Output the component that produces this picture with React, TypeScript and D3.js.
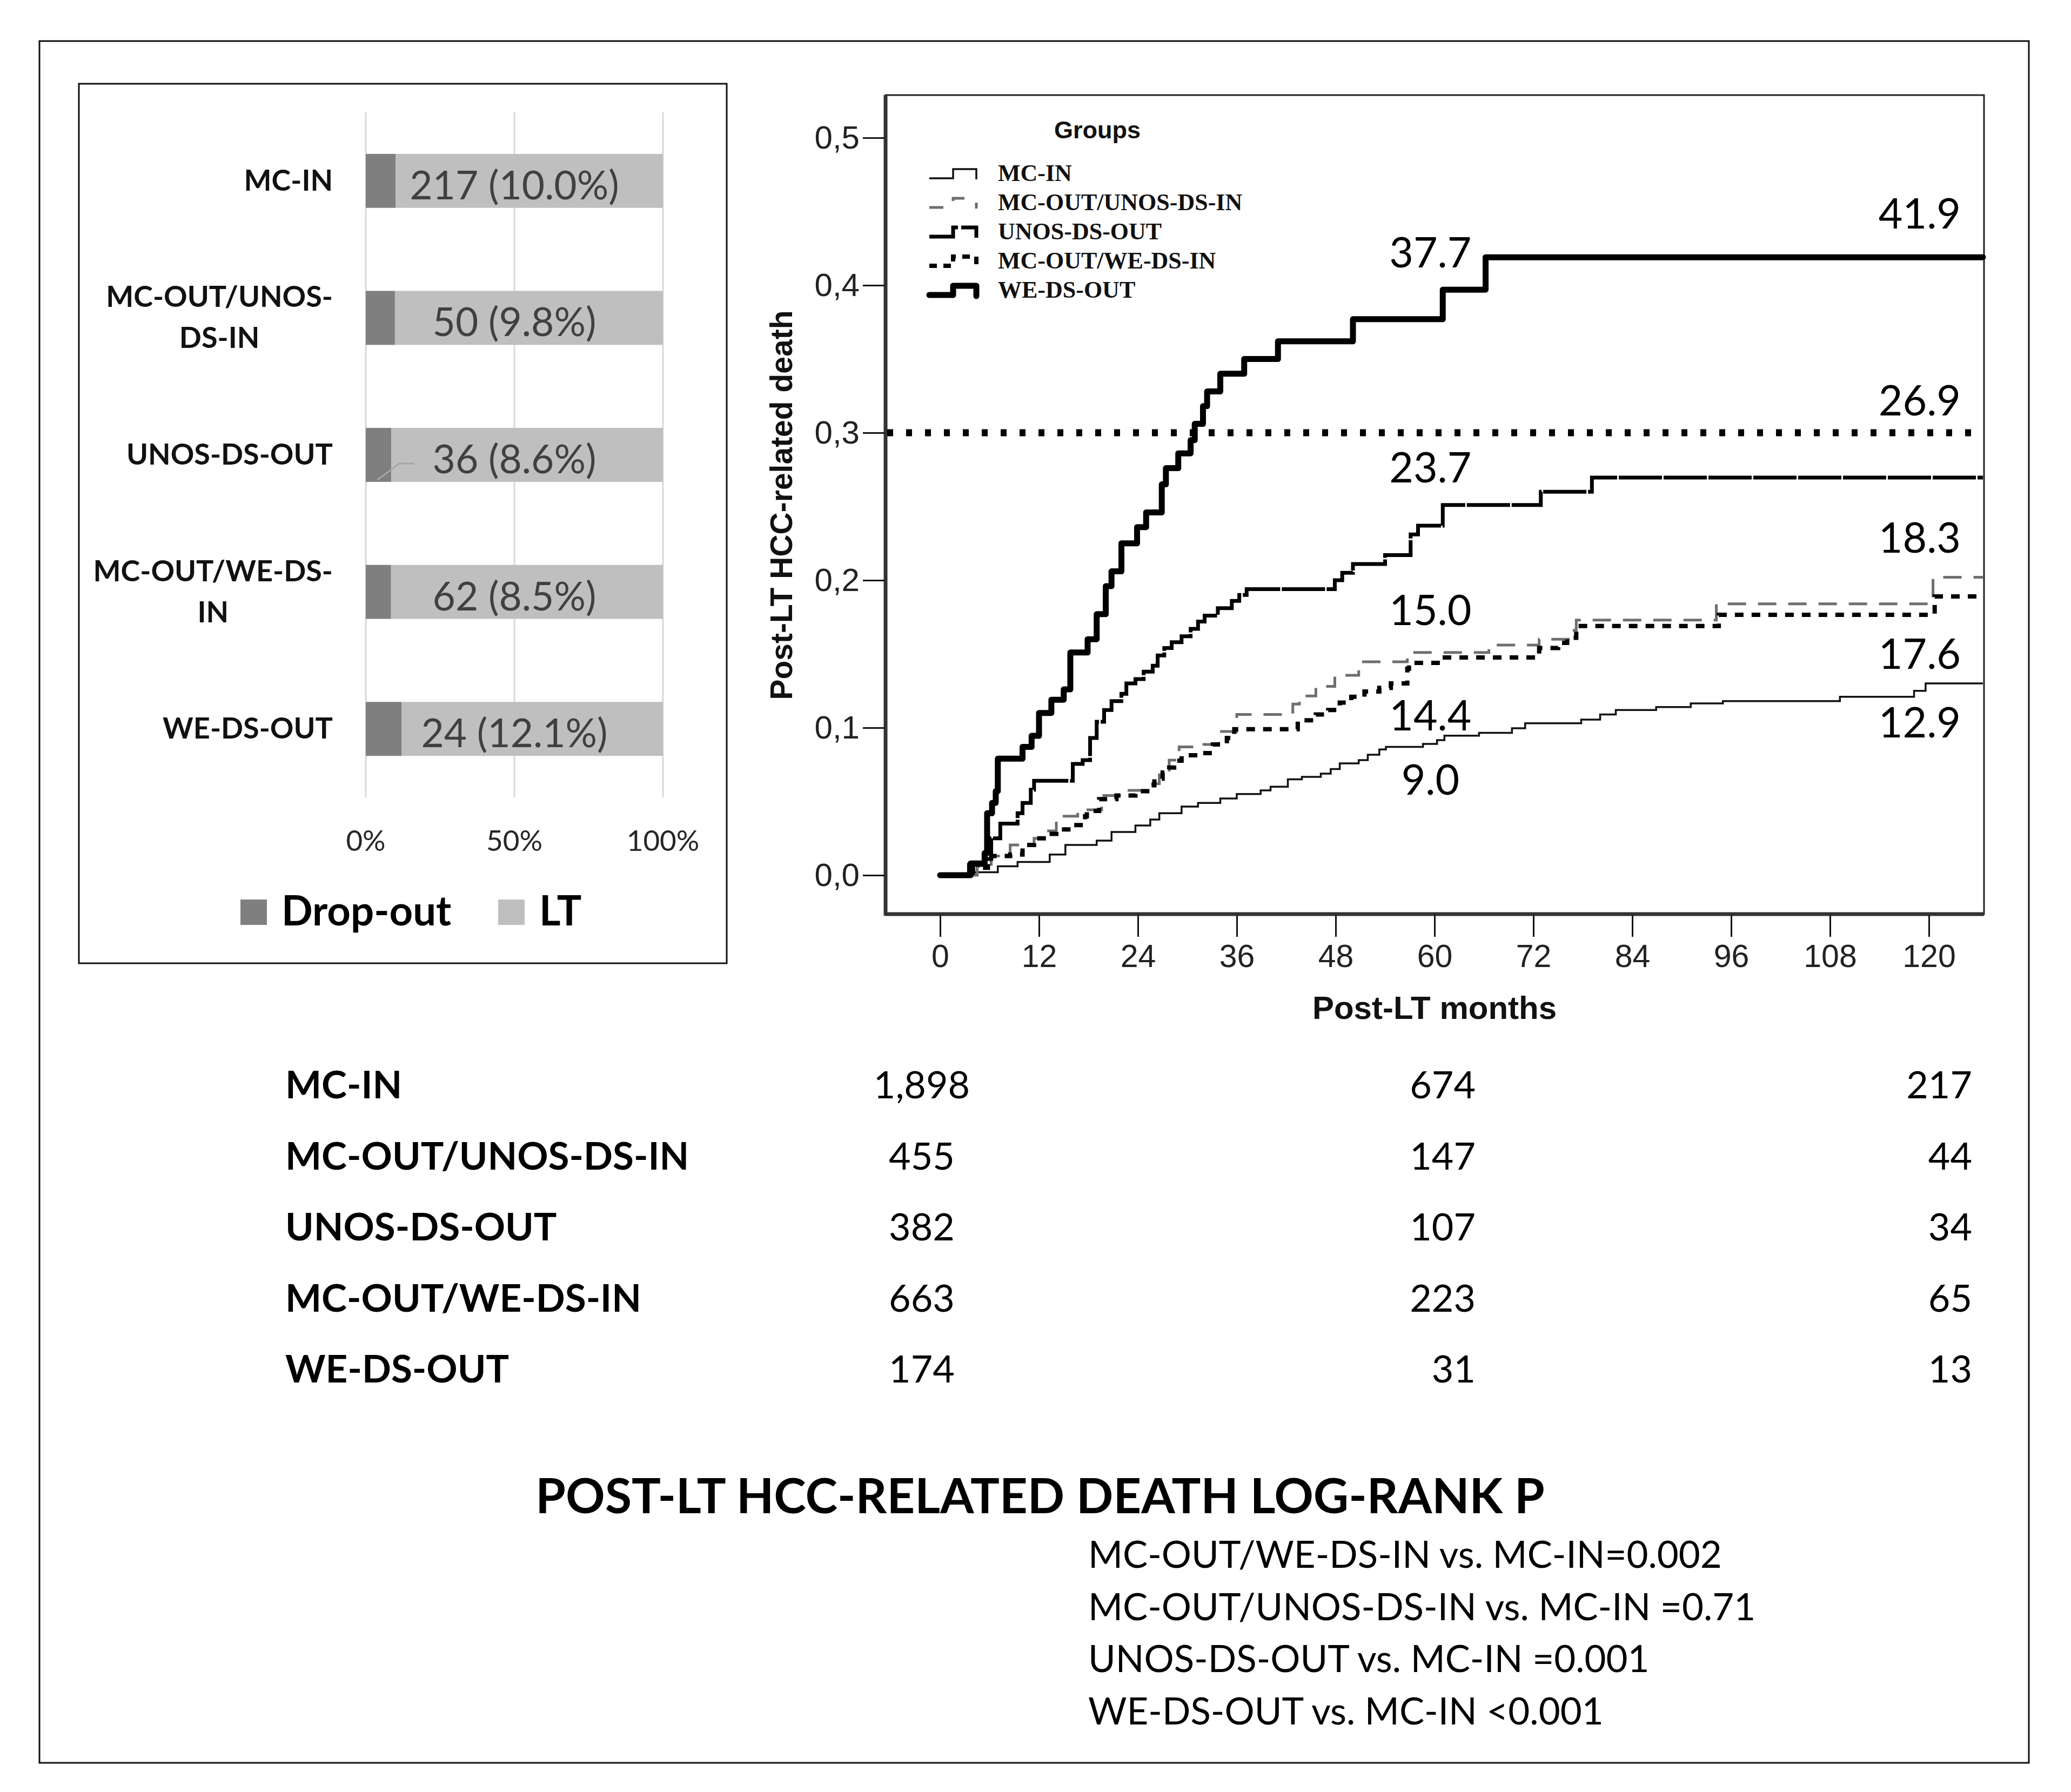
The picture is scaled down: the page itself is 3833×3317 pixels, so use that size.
import * as d3 from 'd3';
import { useEffect, useRef } from 'react';

const W = 3833;
const H = 3317;

// ---- data ----
const groups = ['MC-IN', 'MC-OUT/UNOS-DS-IN', 'UNOS-DS-OUT', 'MC-OUT/WE-DS-IN', 'WE-DS-OUT'];
const barLabelLines = [['MC-IN'], ['MC-OUT/UNOS-', 'DS-IN'], ['UNOS-DS-OUT'], ['MC-OUT/WE-DS-', 'IN'], ['WE-DS-OUT']];
const dropoutPct = [10.0, 9.8, 8.6, 8.5, 12.1];
const dropoutN = [217, 50, 36, 62, 24];
const barTicks = [0, 50, 100];
const barLegend = ['Drop-out', 'LT'];

// cumulative incidence step points [month, value]
const mcIn: [number, number][] = [
  [0, 0], [4.1, 0.002], [7.0, 0.006], [9.4, 0.009], [13.3, 0.014], [15.2, 0.0205], [19.0, 0.0234],
  [20.8, 0.0293], [23.7, 0.0337], [25.5, 0.0377], [26.6, 0.042], [29.3, 0.0465], [31.3, 0.049],
  [34.0, 0.052], [36.0, 0.055], [38.9, 0.0575], [40.1, 0.06], [42.2, 0.065], [43.9, 0.0667],
  [46.2, 0.0689], [47.4, 0.072], [48.5, 0.0758], [50.8, 0.078], [51.9, 0.0817], [53.3, 0.0853],
  [54.1, 0.087], [58.6, 0.089], [60.3, 0.0916], [61.2, 0.0946], [65.4, 0.0965], [69.4, 0.0996],
  [71.0, 0.103], [77.8, 0.1055], [80.1, 0.109], [82.0, 0.112], [86.9, 0.114], [91.1, 0.1165],
  [95.0, 0.118], [109.2, 0.121], [118.2, 0.125], [119.6, 0.13],
];
const mcOutUnosIn: [number, number][] = [
  [0, 0], [4.5, 0.006], [6.2, 0.013], [8.5, 0.0205], [11.4, 0.025], [12.9, 0.03], [14.1, 0.04],
  [16.7, 0.0443], [19.6, 0.054], [22.3, 0.0575], [25.5, 0.062], [26.6, 0.0696], [27.8, 0.078],
  [29.0, 0.087], [32.0, 0.0886], [33.8, 0.0974], [36.0, 0.109], [42.8, 0.116], [43.6, 0.1215],
  [45.6, 0.128], [47.9, 0.1355], [50.8, 0.1447], [56.7, 0.151], [66.6, 0.156], [72.7, 0.16],
  [76.7, 0.166], [77.2, 0.173], [94.2, 0.184], [120.5, 0.202],
];
const unosDsOut: [number, number][] = [
  [0, 0], [3.5, 0.007], [5.3, 0.011], [6.2, 0.025], [7.3, 0.035], [9.4, 0.042], [10.0, 0.049],
  [11.0, 0.058], [11.4, 0.064], [16.1, 0.0755], [17.3, 0.078], [18.2, 0.093], [19.0, 0.104],
  [19.9, 0.112], [20.8, 0.118], [22.0, 0.123], [22.6, 0.13], [23.7, 0.133], [24.7, 0.138],
  [25.8, 0.142], [26.4, 0.149], [27.2, 0.154], [28.1, 0.158], [29.3, 0.162], [30.4, 0.167],
  [31.3, 0.172], [32.1, 0.176], [33.7, 0.181], [35.4, 0.186], [36.3, 0.19], [37.2, 0.194],
  [47.9, 0.2], [48.8, 0.205], [50.1, 0.211], [54.0, 0.217], [57.1, 0.231], [58.0, 0.237],
  [61.0, 0.251], [72.9, 0.26], [79.1, 0.2696],
];
const mcOutWeIn: [number, number][] = [
  [0, 0], [4.0, 0.005], [5.8, 0.01], [6.2, 0.013], [8.5, 0.014], [10.0, 0.0205], [11.4, 0.025],
  [12.9, 0.028], [14.1, 0.031], [16.1, 0.034], [17.6, 0.04], [17.8, 0.0436], [19.3, 0.0516],
  [21.4, 0.054], [23.7, 0.057], [25.5, 0.061], [26.0, 0.0655], [27.0, 0.0696], [27.8, 0.073],
  [28.4, 0.0777], [29.3, 0.0813], [31.9, 0.0828], [33.1, 0.0886], [34.8, 0.093], [35.7, 0.099],
  [43.4, 0.105], [45.6, 0.109], [47.1, 0.112], [48.5, 0.117], [49.9, 0.121], [51.5, 0.1245],
  [53.3, 0.127], [54.7, 0.13], [56.7, 0.14], [56.9, 0.144], [60.9, 0.1476], [72.7, 0.154],
  [75.0, 0.1575], [76.1, 0.161], [77.2, 0.169], [94.5, 0.1766], [120.7, 0.189],
];
const weDsOut: [number, number][] = [
  [0, 0], [3.7, 0.008], [5.4, 0.015], [5.7, 0.042], [6.3, 0.049], [6.75, 0.057], [7.0, 0.079],
  [10.0, 0.087], [11.1, 0.0945], [12.0, 0.11], [13.5, 0.119], [15.0, 0.126], [15.8, 0.151],
  [17.9, 0.16], [19.0, 0.177], [20.1, 0.196], [20.8, 0.206], [22.0, 0.225], [23.9, 0.236],
  [25.0, 0.246], [26.9, 0.265], [27.4, 0.276], [28.9, 0.286], [30.4, 0.295], [30.9, 0.306],
  [31.9, 0.318], [32.4, 0.328], [34.0, 0.34], [36.9, 0.35], [41.0, 0.362], [50.1, 0.377],
  [61.0, 0.397], [66.2, 0.419],
];
const curves = [mcIn, mcOutUnosIn, unosDsOut, mcOutWeIn, weDsOut];

const fiveYear = [9.0, 15.0, 23.7, 14.4, 37.7];
const tenYear = [12.9, 18.3, 26.9, 17.6, 41.9];
const threshold = 0.3;
const yTicks = [0, 0.1, 0.2, 0.3, 0.4, 0.5];
const xTicks = [0, 12, 24, 36, 48, 60, 72, 84, 96, 108, 120];

const atRisk0 = [1898, 455, 382, 663, 174];
const atRisk60 = [674, 147, 107, 223, 31];
const atRisk120 = [217, 44, 34, 65, 13];

const title = 'POST-LT HCC-RELATED DEATH LOG-RANK P';
const pValueLines = [
  'MC-OUT/WE-DS-IN vs. MC-IN=0.002',
  'MC-OUT/UNOS-DS-IN vs. MC-IN =0.71',
  'UNOS-DS-OUT vs. MC-IN =0.001',
  'WE-DS-OUT vs. MC-IN <0.001',
];

// ---- styles / layout ----
const lineStyles = [
  { width: 3.5, color: '#111', dash: null },
  { width: 5, color: '#6e6e6e', dash: '34 22' },
  { width: 7, color: '#000', dash: '80 3' },
  { width: 8, color: '#000', dash: '16 15' },
  { width: 11, color: '#000', dash: null },
];
const fiveYearLabelY = [1471, 1157, 893, 1352, 495];
const tenYearLabelY = [1365, 1023, 769, 1238, 423];

const CAL = 'Lato, "Open Sans", sans-serif';
const SPSS = '"Liberation Sans", Arial, sans-serif';
const SERIF = '"Liberation Serif", "Times New Roman", serif';

const App = () => {
  const ref = useRef<SVGSVGElement>(null);

  useEffect(() => {
    if (!ref.current) return;
    const svg = d3.select(ref.current);
    svg.selectAll('*').remove();

    svg.append('rect').attr('width', W).attr('height', H).attr('fill', '#fff');
    // outer frame
    svg
      .append('rect')
      .attr('x', 73)
      .attr('y', 76)
      .attr('width', 3755 - 73)
      .attr('height', 3263 - 76)
      .attr('fill', 'none')
      .attr('stroke', '#111')
      .attr('stroke-width', 3);

    // ---------- stacked bar chart ----------
    const bar = svg.append('g');
    bar
      .append('rect')
      .attr('x', 146)
      .attr('y', 155)
      .attr('width', 1345 - 146)
      .attr('height', 1783 - 155)
      .attr('fill', '#fff')
      .attr('stroke', '#111')
      .attr('stroke-width', 3);

    const bx = d3.scaleLinear().domain([0, 100]).range([677, 1227]);
    const by = d3.scaleBand<string>().domain(groups).range([208, 1476]).paddingInner(0.606).paddingOuter(0.303);

    bar
      .selectAll('line.grid')
      .data(barTicks)
      .join('line')
      .attr('x1', (d) => bx(d))
      .attr('x2', (d) => bx(d))
      .attr('y1', 208)
      .attr('y2', 1476)
      .attr('stroke', '#d9d9d9')
      .attr('stroke-width', 3);

    groups.forEach((g, i) => {
      const y0 = by(g)!;
      bar
        .append('rect')
        .attr('x', bx(0))
        .attr('y', y0)
        .attr('width', bx(dropoutPct[i]) - bx(0))
        .attr('height', by.bandwidth())
        .attr('fill', '#7f7f7f');
      bar
        .append('rect')
        .attr('x', bx(dropoutPct[i]))
        .attr('y', y0)
        .attr('width', bx(100) - bx(dropoutPct[i]))
        .attr('height', by.bandwidth())
        .attr('fill', '#bfbfbf');
      bar
        .append('text')
        .attr('x', bx(50))
        .attr('y', y0 + by.bandwidth() / 2 + 34)
        .attr('text-anchor', 'middle')
        .attr('font-family', CAL)
        .attr('font-size', 73)
        .attr('fill', '#404040')
        .text(`${dropoutN[i]} (${dropoutPct[i].toFixed(1)}%)`);

      const cy = y0 + by.bandwidth() / 2;
      const lines = barLabelLines[i];
      const texts = lines.map((ln, j) =>
        bar
          .append('text')
          .attr('x', 616)
          .attr('y', cy + 18 + (j - (lines.length - 1) / 2) * 76)
          .attr('text-anchor', 'end')
          .attr('font-family', CAL)
          .attr('font-weight', 700)
          .attr('font-size', 54)
          .attr('fill', '#111')
          .text(ln),
      );
      if (lines.length > 1) {
        const maxW = d3.max(texts, (t) => (t.node() as SVGTextElement).getComputedTextLength()) || 0;
        texts.forEach((t) => t.attr('text-anchor', 'middle').attr('x', 616 - maxW / 2));
      }
    });

    // small leader line of the UNOS-DS-OUT label
    const ly = by(groups[2])!;
    bar
      .append('path')
      .attr(
        'd',
        `M${bx(4)},${ly + by.bandwidth() - 4}L${bx(11.3)},${ly + by.bandwidth() / 2 + 16}H${bx(16.3)}`,
      )
      .attr('fill', 'none')
      .attr('stroke', '#a6a6a6')
      .attr('stroke-width', 3);

    bar
      .selectAll('text.tick')
      .data(barTicks)
      .join('text')
      .attr('x', (d) => bx(d))
      .attr('y', 1575)
      .attr('text-anchor', 'middle')
      .attr('font-family', CAL)
      .attr('font-size', 53)
      .attr('fill', '#262626')
      .text((d) => `${d}%`);

    const legX = [445, 922];
    const legColors = ['#7f7f7f', '#bfbfbf'];
    barLegend.forEach((name, i) => {
      bar.append('rect').attr('x', legX[i]).attr('y', 1665).attr('width', 49).attr('height', 47).attr('fill', legColors[i]);
      bar
        .append('text')
        .attr('x', legX[i] + 76)
        .attr('y', 1713)
        .attr('font-family', CAL)
        .attr('font-weight', 700)
        .attr('font-size', 76)
        .attr('fill', '#000')
        .text(name);
    });

    // ---------- cumulative incidence plot ----------
    const km = svg.append('g');
    const x = d3.scaleLinear().domain([0, 120]).range([1740, 3570]);
    const y = d3.scaleLinear().domain([0, 0.5]).range([1620, 255]);
    const left = 1639;
    const right = 3672;
    const top = 176;
    const bottom = 1692;

    km.append('rect')
      .attr('x', left)
      .attr('y', top)
      .attr('width', right - left)
      .attr('height', bottom - top)
      .attr('fill', '#fff')
      .attr('stroke', '#222')
      .attr('stroke-width', 3);
    km.append('line').attr('x1', left).attr('x2', left).attr('y1', top).attr('y2', bottom + 3)
      .attr('stroke', '#333').attr('stroke-width', 7);
    km.append('line').attr('x1', left).attr('x2', right).attr('y1', bottom).attr('y2', bottom)
      .attr('stroke', '#333').attr('stroke-width', 7);

    const yAxis = km
      .append('g')
      .attr('transform', `translate(${left - 2},0)`)
      .call(
        d3
          .axisLeft(y)
          .tickValues(yTicks)
          .tickSize(40)
          .tickPadding(6)
          .tickFormat((d) => d3.format('.1f')(d as number).replace('.', ',')),
      );
    yAxis.select('.domain').remove();
    yAxis.selectAll('line').attr('stroke', '#111').attr('stroke-width', 3);
    yAxis.selectAll('text').attr('font-family', SPSS).attr('font-size', 60).attr('fill', '#222');

    const xAxis = km
      .append('g')
      .attr('transform', `translate(0,${bottom + 2})`)
      .call(d3.axisBottom(x).tickValues(xTicks).tickSize(40).tickPadding(14));
    xAxis.select('.domain').remove();
    xAxis.selectAll('line').attr('stroke', '#111').attr('stroke-width', 3);
    xAxis.selectAll('text').attr('font-family', SPSS).attr('font-size', 59).attr('fill', '#222');

    km.append('text')
      .attr('x', x(60))
      .attr('y', 1886)
      .attr('text-anchor', 'middle')
      .attr('font-family', SPSS)
      .attr('font-weight', 700)
      .attr('font-size', 60)
      .attr('fill', '#111')
      .text('Post-LT months');
    km.append('text')
      .attr('transform', `translate(1466,935) rotate(-90)`)
      .attr('text-anchor', 'middle')
      .attr('font-family', SPSS)
      .attr('font-weight', 700)
      .attr('font-size', 57)
      .attr('fill', '#111')
      .text('Post-LT HCC-related death');

    // threshold line
    km.append('line')
      .attr('x1', left + 3)
      .attr('x2', right - 10)
      .attr('y1', y(threshold))
      .attr('y2', y(threshold))
      .attr('stroke', '#000')
      .attr('stroke-width', 13)
      .attr('stroke-dasharray', '11 24');

    const xEnd = x.invert(right - 2);
    const step = d3
      .line<[number, number]>()
      .x((d) => x(d[0]))
      .y((d) => y(d[1]))
      .curve(d3.curveStepAfter);

    curves.forEach((c, i) => {
      const pts: [number, number][] = [...c, [xEnd, c[c.length - 1][1]]];
      const st = lineStyles[i];
      const p = km
        .append('path')
        .attr('d', step(pts))
        .attr('fill', 'none')
        .attr('stroke', st.color)
        .attr('stroke-width', st.width)
        .attr('stroke-linejoin', i === 4 ? 'round' : 'miter')
        .attr('stroke-linecap', i === 4 ? 'round' : 'butt');
      if (st.dash) p.attr('stroke-dasharray', st.dash);
    });

    // value labels
    fiveYear.forEach((v, i) => {
      km.append('text')
        .attr('x', x(59.5))
        .attr('y', fiveYearLabelY[i])
        .attr('text-anchor', 'middle')
        .attr('font-family', CAL)
        .attr('font-size', 77)
        .attr('fill', '#000')
        .text(v.toFixed(1));
    });
    tenYear.forEach((v, i) => {
      km.append('text')
        .attr('x', 3629)
        .attr('y', tenYearLabelY[i])
        .attr('text-anchor', 'end')
        .attr('font-family', CAL)
        .attr('font-size', 77)
        .attr('fill', '#000')
        .text(v.toFixed(1));
    });

    // legend
    km.append('text')
      .attr('x', 2031)
      .attr('y', 256)
      .attr('text-anchor', 'middle')
      .attr('font-family', SPSS)
      .attr('font-weight', 700)
      .attr('font-size', 45)
      .attr('fill', '#111')
      .text('Groups');
    groups.forEach((g, i) => {
      const b = 335 + i * 54;
      const st = lineStyles[i];
      const p = km
        .append('path')
        .attr('d', `M1720,${b - 5}H1764V${b - 22}H1807V${b - 3}`)
        .attr('fill', 'none')
        .attr('stroke', st.color)
        .attr('stroke-width', st.width)
        .attr('stroke-linejoin', i === 4 ? 'round' : 'miter')
        .attr('stroke-linecap', i === 4 ? 'round' : 'butt');
      if (st.dash) p.attr('stroke-dasharray', i === 1 ? '26 30' : i === 3 ? '14 12' : '70 6');
      km.append('text')
        .attr('x', 1847)
        .attr('y', b)
        .attr('font-family', SERIF)
        .attr('font-weight', 700)
        .attr('font-size', 44)
        .attr('fill', '#111')
        .text(g);
    });

    // ---------- numbers at risk ----------
    const fmt = d3.format(',');
    groups.forEach((g, i) => {
      const b = 2033 + i * 131.5;
      svg.append('text').attr('x', 528).attr('y', b).attr('font-family', CAL).attr('font-weight', 700)
        .attr('font-size', 71).attr('fill', '#000').text(g);
      svg.append('text').attr('x', 1706).attr('y', b).attr('text-anchor', 'middle').attr('font-family', CAL)
        .attr('font-size', 70).attr('fill', '#000').text(fmt(atRisk0[i]));
      svg.append('text').attr('x', 2731).attr('y', b).attr('text-anchor', 'end').attr('font-family', CAL)
        .attr('font-size', 70).attr('fill', '#000').text(fmt(atRisk60[i]));
      svg.append('text').attr('x', 3650).attr('y', b).attr('text-anchor', 'end').attr('font-family', CAL)
        .attr('font-size', 70).attr('fill', '#000').text(fmt(atRisk120[i]));
    });

    // ---------- log-rank ----------
    svg.append('text')
      .attr('x', 1925)
      .attr('y', 2801)
      .attr('text-anchor', 'middle')
      .attr('font-family', CAL)
      .attr('font-weight', 700)
      .attr('font-size', 90)
      .attr('fill', '#000')
      .text(title);
    pValueLines.forEach((t, i) => {
      svg.append('text')
        .attr('x', 2014)
        .attr('y', 2902 + i * 96.5)
        .attr('font-family', CAL)
        .attr('font-size', 69)
        .attr('fill', '#000')
        .text(t);
    });
  }, []);

  return (
    <svg
      ref={ref}
      width={W}
      height={H}
      style={{ position: 'absolute', left: 0, top: 0, display: 'block' }}
    />
  );
};

export default App;
